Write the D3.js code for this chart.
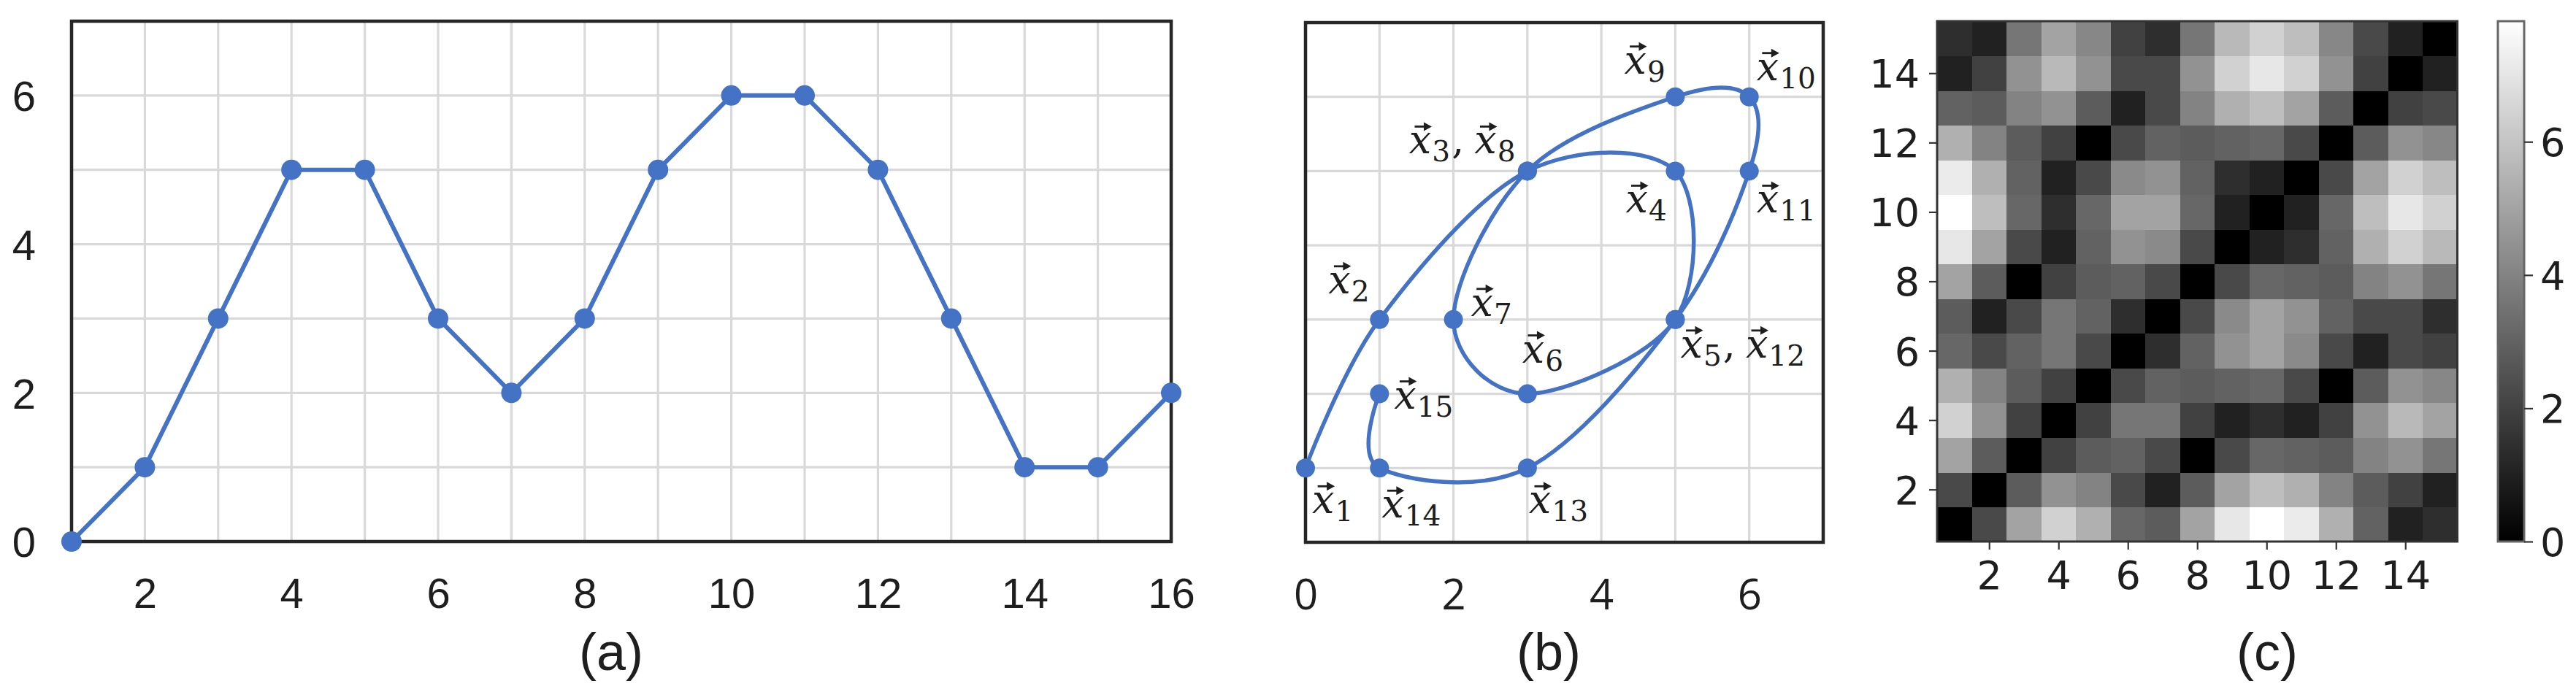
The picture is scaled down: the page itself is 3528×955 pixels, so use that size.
<!DOCTYPE html>
<html><head><meta charset="utf-8">
<script src="https://cdn.jsdelivr.net/npm/d3@7/dist/d3.min.js"></script>
<style>
html,body{margin:0;padding:0;background:#fff;}
svg{display:block;}
.ta{font-family:"Liberation Sans",Arial,sans-serif;font-size:58px;fill:#1e1e1e;}
.tb{font-family:"Open Sans","Noto Sans",sans-serif;font-size:58px;fill:#1e1e1e;}
.tc{font-family:"DejaVu Sans",sans-serif;font-size:54px;fill:#1e1e1e;}
.pl{font-family:"Liberation Sans",Arial,sans-serif;font-size:72px;fill:#1e1e1e;}
.vx{font-family:"DejaVu Serif",serif;font-style:italic;font-size:54px;fill:#1e1e1e;}
.vs{font-family:"DejaVu Serif",serif;font-size:39px;fill:#1e1e1e;}
</style>
</head><body>
<svg id="chart" width="3528" height="955"></svg>
<script>
// ---------- DATA ----------
// (a) time series
const seriesA_t = [1,2,3,4,5,6,7,8,9,10,11,12,13,14,15,16];
const seriesA_v = [0,1,3,5,5,3,2,3,5,6,6,5,3,1,1,2];
const ticksA_x = [2,4,6,8,10,12,14,16];
const ticksA_y = [0,2,4,6];
// (b) embedded points x1..x15
const pointsB_x = [0,1,3,5,5,3,2,3,5,6,6,5,3,1,1];
const pointsB_y = [1,3,5,5,3,2,3,5,6,6,5,3,1,1,2];
const ticksB_x = [0,2,4,6];
// point labels: subscripts shown together at one point
const labelGroups = [[1],[2],[3,8],[4],[5,12],[6],[7],[9],[10],[11],[13],[14],[15]];
// (c) distance matrix, rows/cols 1..15
const heatIndex = [1,2,3,4,5,6,7,8,9,10,11,12,13,14,15];
const heatTicks = [2,4,6,8,10,12,14];
const distRows = [
[0,2.24,5,6.40,5.39,3.16,2.83,5,7.07,7.81,7.21,5.39,3,1,1.41],
[2.24,0,2.83,4.47,4,2.24,1,2.83,5,5.83,5.39,4,2.83,2,1],
[5,2.83,0,2,2.83,3,2.24,0,2.24,3.16,3,2.83,4,4.47,3.61],
[6.40,4.47,2,0,2,3.61,3.61,2,1,1.41,1,2,4.47,5.66,5],
[5.39,4,2.83,2,0,2.24,3,2.83,3,3.16,2.24,0,2.83,4.47,4.12],
[3.16,2.24,3,3.61,2.24,0,1.41,3,4.47,5,4.24,2.24,1,2.24,2],
[2.83,1,2.24,3.61,3,1.41,0,2.24,4.24,5,4.47,3,2.24,2.24,1.41],
[5,2.83,0,2,2.83,3,2.24,0,2.24,3.16,3,2.83,4,4.47,3.61],
[7.07,5,2.24,1,3,4.47,4.24,2.24,0,1,1.41,3,5.39,6.40,5.66],
[7.81,5.83,3.16,1.41,3.16,5,5,3.16,1,0,1,3.16,5.83,7.07,6.40],
[7.21,5.39,3,1,2.24,4.24,4.47,3,1.41,1,0,2.24,5,6.40,5.83],
[5.39,4,2.83,2,0,2.24,3,2.83,3,3.16,2.24,0,2.83,4.47,4.12],
[3,2.83,4,4.47,2.83,1,2.24,4,5.39,5.83,5,2.83,0,2,2.24],
[1,2,4.47,5.66,4.47,2.24,2.24,4.47,6.40,7.07,6.40,4.47,2,0,1],
[1.41,1,3.61,5,4.12,2,1.41,3.61,5.66,6.40,5.83,4.12,2.24,1,0]
];
const colorbarMax = 7.81;
const colorbarTicks = [0,2,4,6];
const panelLabels = ["(a)","(b)","(c)"];

// ---------- LAYOUT ----------
const svg = d3.select("#chart");
const BLUE = "#4472C4", GRID = "#d9d9d9", FRAME = "#262626";

// ===== Panel (a) =====
const A = {l:98, r:1604, t:29, b:742};
const xa = d3.scaleLinear().domain([1,16]).range([A.l, A.r]);
const ya = d3.scaleLinear().domain([0,7]).range([A.b, A.t]);
const ga = svg.append("g");
ga.selectAll(".gx").data(d3.range(2,16)).join("line")
  .attr("x1", d=>xa(d)).attr("x2", d=>xa(d)).attr("y1", A.t).attr("y2", A.b)
  .attr("stroke", GRID).attr("stroke-width", 3.2);
ga.selectAll(".gy").data(d3.range(1,7)).join("line")
  .attr("y1", d=>ya(d)).attr("y2", d=>ya(d)).attr("x1", A.l).attr("x2", A.r)
  .attr("stroke", GRID).attr("stroke-width", 3.2);
ga.append("rect").attr("x", A.l).attr("y", A.t).attr("width", A.r-A.l).attr("height", A.b-A.t)
  .attr("fill","none").attr("stroke", FRAME).attr("stroke-width", 4.5);
const axA_x = ga.append("g").attr("transform", `translate(0,${A.b})`)
  .call(d3.axisBottom(xa).tickValues(ticksA_x).tickSize(0).tickPadding(0).tickFormat(d3.format("d")));
axA_x.select(".domain").remove();
axA_x.selectAll("text").attr("class","ta").attr("dy", null).attr("y", 91).attr("fill", null).attr("font-family", null).attr("font-size", null);
const axA_y = ga.append("g").attr("transform", `translate(49,0)`)
  .call(d3.axisLeft(ya).tickValues(ticksA_y).tickSize(0).tickPadding(0).tickFormat(d3.format("d")));
axA_y.select(".domain").remove();
axA_y.selectAll("text").attr("class","ta").attr("x", 0).attr("dy", "0.36em").attr("fill", null).attr("font-family", null).attr("font-size", null);
ga.append("path").datum(seriesA_t.map((t,i)=>[t, seriesA_v[i]]))
  .attr("d", d3.line().x(d=>xa(d[0])).y(d=>ya(d[1])))
  .attr("fill","none").attr("stroke", BLUE).attr("stroke-width", 6).attr("stroke-linejoin","round");
ga.selectAll(".pa").data(seriesA_t).join("circle")
  .attr("cx", (d)=>xa(d)).attr("cy", (d,i)=>ya(seriesA_v[i])).attr("r", 14).attr("fill", BLUE);

// ===== Panel (b) =====
const B = {l:1788, r:2497, t:31, b:743};
const xb = d3.scaleLinear().domain([0,7]).range([B.l, B.r]);
const yb = d3.scaleLinear().domain([0,7]).range([B.b, B.t]);
const gb = svg.append("g");
gb.selectAll(".gx").data(d3.range(1,7)).join("line")
  .attr("x1", d=>xb(d)).attr("x2", d=>xb(d)).attr("y1", B.t).attr("y2", B.b)
  .attr("stroke", GRID).attr("stroke-width", 3.2);
gb.selectAll(".gy").data(d3.range(1,7)).join("line")
  .attr("y1", d=>yb(d)).attr("y2", d=>yb(d)).attr("x1", B.l).attr("x2", B.r)
  .attr("stroke", GRID).attr("stroke-width", 3.2);
gb.append("rect").attr("x", B.l).attr("y", B.t).attr("width", B.r-B.l).attr("height", B.b-B.t)
  .attr("fill","none").attr("stroke", FRAME).attr("stroke-width", 4.5);
const axB_x = gb.append("g").attr("transform", `translate(0,${B.b})`)
  .call(d3.axisBottom(xb).tickValues(ticksB_x).tickSize(0).tickPadding(0).tickFormat(d3.format("d")));
axB_x.select(".domain").remove();
axB_x.selectAll("text").attr("class","tb").attr("dy", null).attr("y", 92).attr("fill", null).attr("font-family", null).attr("font-size", null);
const ptsB = pointsB_x.map((x,i)=>[x, pointsB_y[i]]);
gb.append("path").datum(ptsB)
  .attr("d", d3.line().x(d=>xb(d[0])).y(d=>yb(d[1])).curve(d3.curveCardinal.tension(0)))
  .attr("fill","none").attr("stroke", BLUE).attr("stroke-width", 5.5);
gb.selectAll(".pb").data(ptsB).join("circle")
  .attr("cx", d=>xb(d[0])).attr("cy", d=>yb(d[1])).attr("r", 13).attr("fill", BLUE);

// label placement (pixel offsets of label start/baseline from the first point of each group)
const labelOffsets = {
  1:[9,62], 2:[-70,-36], 3:[-162,-24], 4:[-68,57], 5:[7,52], 6:[-7,-43], 7:[24,-5],
  9:[-70,-32], 10:[10,-23], 11:[10,57], 13:[2,62], 14:[3,68], 15:[20,20]
};
function vecLabel(g, x, y, subs){
  let cx = x;
  subs.forEach((s,k)=>{
    if(k>0){
      const c = g.append("text").attr("class","vs").style("font-size","54px").attr("x", cx+2).attr("y", y).text(",");
      cx += c.node().getComputedTextLength() + 16;
    }
    const t = g.append("text").attr("class","vx").attr("x", cx).attr("y", y).text("x");
    const w = t.node().getComputedTextLength();
    const ax0 = cx + w*0.25, ax1 = cx + w*1.02, ay = y - 37;
    g.append("path").attr("d", `M${ax0},${ay}H${ax1-6}`).attr("stroke","#1e1e1e").attr("stroke-width",2.8);
    g.append("path").attr("d", `M${ax1},${ay}L${ax1-11},${ay-6}L${ax1-11},${ay+6}Z`).attr("fill","#1e1e1e");
    cx += w + 1;
    const sb = g.append("text").attr("class","vs").attr("x", cx).attr("y", y+11).text(String(s));
    cx += sb.node().getComputedTextLength();
  });
}
const gl = gb.append("g");
labelGroups.forEach(grp=>{
  const i = grp[0]-1;
  const o = labelOffsets[grp[0]];
  vecLabel(gl, xb(pointsB_x[i]) + o[0], yb(pointsB_y[i]) + o[1], grp);
});

// ===== Panel (c) =====
const C = {l:2653, r:3365.5, t:29, b:742};
const xc = d3.scaleBand().domain(heatIndex).range([C.l, C.r]);
const yc = d3.scaleBand().domain(heatIndex).range([C.b, C.t]);
const gray = d3.scaleLinear().domain([0, colorbarMax]).range(["#000000","#ffffff"]).clamp(true);
const gc = svg.append("g");
const cells = [];
distRows.forEach((row,i)=>row.forEach((v,j)=>cells.push({r:heatIndex[i], c:heatIndex[j], v})));
gc.selectAll(".cell").data(cells).join("rect")
  .attr("x", d=>xc(d.c)).attr("y", d=>yc(d.r)).attr("width", xc.bandwidth()+0.6).attr("height", yc.bandwidth()+0.6)
  .attr("fill", d=>gray(d.v)).attr("shape-rendering","crispEdges");
gc.append("rect").attr("x", C.l).attr("y", C.t).attr("width", C.r-C.l).attr("height", C.b-C.t)
  .attr("fill","none").attr("stroke","#333").attr("stroke-width",3);
const xcT = d3.scaleLinear().domain([0.5,15.5]).range([C.l, C.r]);
const ycT = d3.scaleLinear().domain([0.5,15.5]).range([C.b, C.t]);
const axC_x = gc.append("g").attr("transform", `translate(0,${C.b})`)
  .call(d3.axisBottom(xcT).tickValues(heatTicks).tickSize(11).tickPadding(0).tickFormat(d3.format("d")));
axC_x.select(".domain").remove();
axC_x.selectAll("line").attr("stroke","#333").attr("stroke-width",2.2);
axC_x.selectAll("text").attr("class","tc").attr("dy", null).attr("y", 65).attr("fill", null).attr("font-family", null).attr("font-size", null);
const axC_y = gc.append("g").attr("transform", `translate(${C.l},0)`)
  .call(d3.axisLeft(ycT).tickValues(heatTicks).tickSize(11).tickPadding(0).tickFormat(d3.format("d")));
axC_y.select(".domain").remove();
axC_y.selectAll("line").attr("stroke","#333").attr("stroke-width",2.2);
axC_y.selectAll("text").attr("class","tc").attr("x", -24).attr("dy", "0.36em").attr("fill", null).attr("font-family", null).attr("font-size", null);

// colorbar
const CB = {l:3421, r:3457, t:29, b:742};
const yCB = d3.scaleLinear().domain([0, colorbarMax]).range([CB.b, CB.t]);
const defs = svg.append("defs");
const grad = defs.append("linearGradient").attr("id","cbg").attr("x1",0).attr("y1",1).attr("x2",0).attr("y2",0);
grad.append("stop").attr("offset","0%").attr("stop-color", gray(0));
grad.append("stop").attr("offset","100%").attr("stop-color", gray(colorbarMax));
gc.append("rect").attr("x", CB.l).attr("y", CB.t).attr("width", CB.r-CB.l).attr("height", CB.b-CB.t)
  .attr("fill","url(#cbg)").attr("stroke","#666").attr("stroke-width",3);
const axCB = gc.append("g").attr("transform", `translate(${CB.r},0)`)
  .call(d3.axisRight(yCB).tickValues(colorbarTicks).tickSize(12).tickPadding(0).tickFormat(d3.format("d")));
axCB.select(".domain").remove();
axCB.selectAll("line").attr("stroke","#333").attr("stroke-width",2.2);
axCB.selectAll("text").attr("class","tc").attr("x", 22).attr("dy", "0.36em").attr("fill", null).attr("font-family", null).attr("font-size", null);

// panel captions
const capX = [837, 2121, 3105];
svg.selectAll(".cap").data(panelLabels).join("text")
  .attr("class","pl").attr("x", (d,i)=>capX[i]).attr("y", 918).attr("text-anchor","middle").text(d=>d);
</script>
</body></html>
